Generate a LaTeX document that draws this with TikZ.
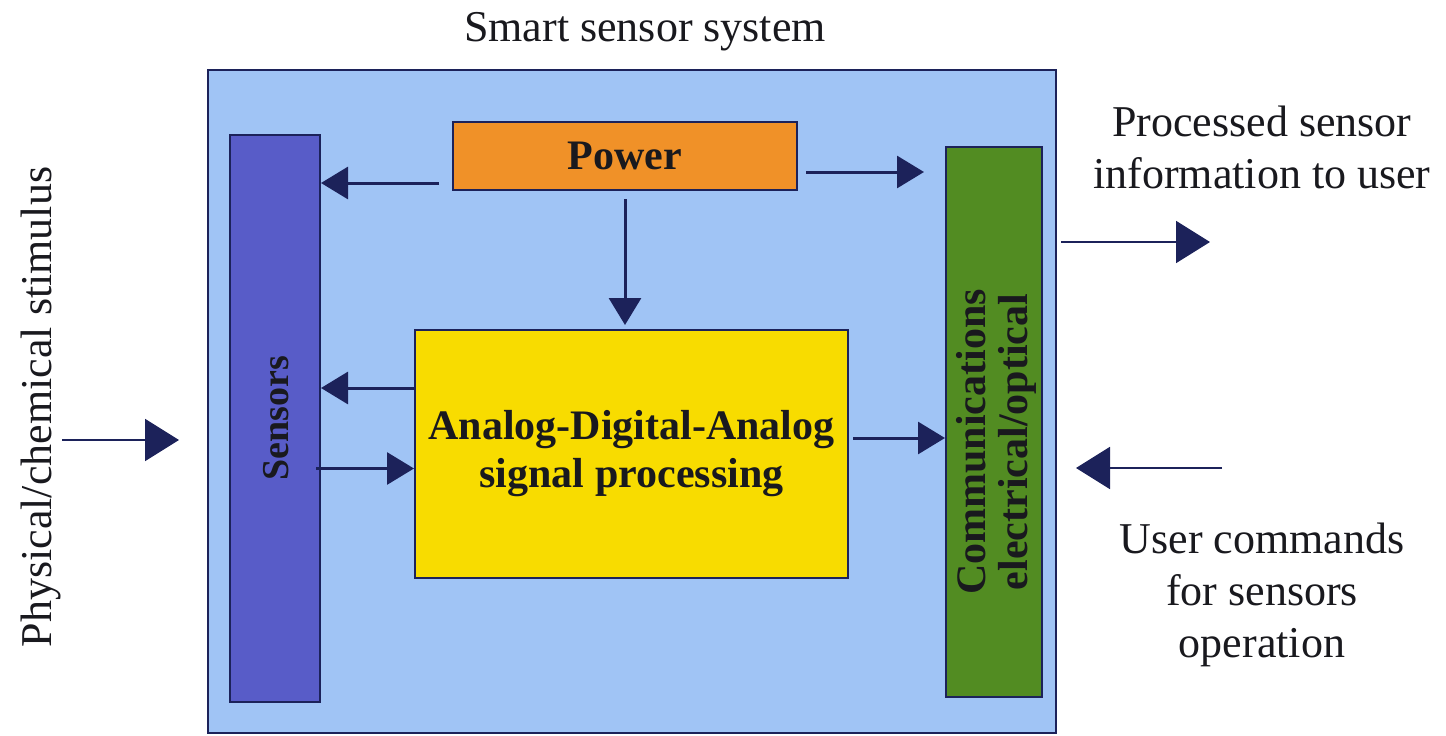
\documentclass[tikz,border=0pt]{standalone}
\usepackage{fontspec}
\setmainfont{Liberation Serif}
\usetikzlibrary{arrows.meta, calc}

\definecolor{sysblue}{RGB}{160,196,245}
\definecolor{navy}{RGB}{28,34,90}
\definecolor{sensblue}{RGB}{88,92,200}
\definecolor{pworange}{RGB}{240,145,40}
\definecolor{dspyellow}{RGB}{248,220,0}
\definecolor{commgreen}{RGB}{82,140,34}
\definecolor{ink}{RGB}{25,25,30}

\tikzset{
  block/.style={draw=navy, line width=2pt, inner sep=0pt, text=ink, align=center,
    font=\fontsize{42}{42}\selectfont\bfseries},
  txt/.style={inner sep=0pt, text=ink, align=center, font=\fontsize{44}{52}\selectfont},
  arr/.style={navy, line width=3pt, -{Triangle[length=27pt,width=32pt]}},
  bigarr/.style={navy, line width=2pt, -{Triangle[length=34pt,width=42pt]}}
}

\begin{document}
\begin{tikzpicture}[x=1pt, y=-1pt]
  \useasboundingbox (0,0) rectangle (1446,736);
  \node[draw=navy, line width=2pt, fill=sysblue, minimum width=848pt, minimum height=663pt] (system) at (632,401.5) {};
  \node[txt] (title) at (645,32) {Smart sensor system};
  \node[block, fill=sensblue, minimum width=90pt, minimum height=567pt] (sensors) at (275,418.5) {};
  \node[block, draw=none, rotate=90, font=\fontsize{38}{38}\selectfont\bfseries] at (276,418) {Sensors};
  \node[block, fill=pworange, minimum width=344pt, minimum height=68pt] (power) at (625,156) {Power};
  \node[block, fill=dspyellow, minimum width=433pt, minimum height=248pt] (dsp) at (631.5,454)
    {Analog-Digital-Analog\\[6pt]signal processing};
  \node[block, fill=commgreen, minimum width=96pt, minimum height=550pt] (comm) at (994,422) {};
  \node[block, draw=none, rotate=90] at (996,442) {Communications\\electrical/optical};
  \node[txt, rotate=90] (stim) at (41,407) {Physical/chemical stimulus};
  \node[txt] (out) at (1262,147) {Processed sensor\\information to user};
  \node[txt] (cmd) at (1262,595) {User commands\\for sensors\\operation};
  \coordinate (outtip) at (1210,242);
  \coordinate (intail) at (1222,468);

  \draw[arr] ([shift={(-13,27)}]power.west) coordinate (p1) -- (sensors.east |- p1);
  \draw[arr, shorten >=21pt] ([shift={(8,16)}]power.east) coordinate (p2) -- (comm.west |- p2);
  \draw[arr, shorten >=4pt] ([shift={(0,8)}]power.south) coordinate (p3) -- (p3 |- dsp.north);
  \draw[arr] ([shift={(0,-66)}]dsp.west) coordinate (p4) -- (sensors.east |- p4);
  \draw[arr] ([shift={(-5,50)}]sensors.east) coordinate (p5) -- (dsp.west |- p5);
  \draw[arr] ([shift={(4,-16)}]dsp.east) coordinate (p6) -- (comm.west |- p6);
  \draw[bigarr, shorten >=28pt] ([shift={(1,33)}]stim.south) coordinate (p7) -- (system.west |- p7);
  \draw[bigarr] ([shift={(4,-159.5)}]system.east) -- (outtip);
  \draw[bigarr, shorten >=19pt] (intail) -- (system.east |- intail);
\end{tikzpicture}
\end{document}
